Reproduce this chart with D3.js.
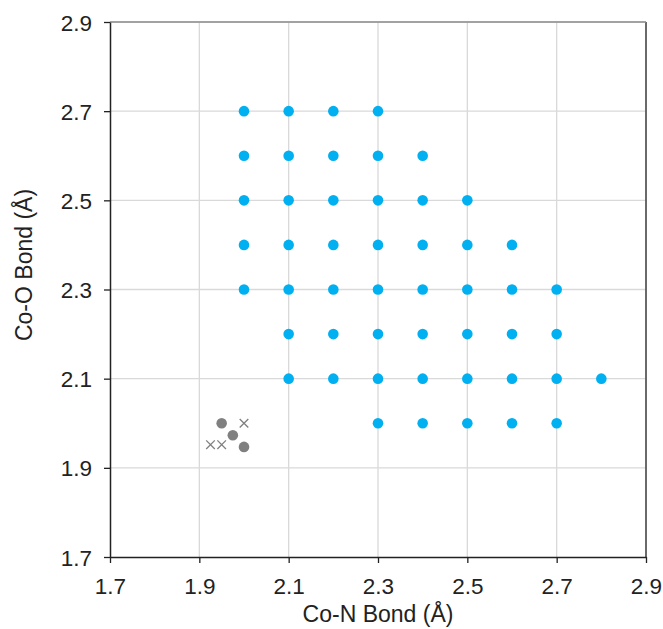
<!DOCTYPE html>
<html>
<head>
<meta charset="utf-8">
<script src="https://cdn.jsdelivr.net/npm/d3@7"></script>
<style>
  body { margin: 0; background: #fff; }
  text { font-family: "Liberation Sans", Arial, sans-serif; }
</style>
</head>
<body>
<div id="chart"></div>
<script>
// grid scan points (Co-N, Co-O)
const gridN = [2.0, 2.1, 2.2, 2.3, 2.0, 2.1, 2.2, 2.3, 2.4, 2.0, 2.1, 2.2, 2.3, 2.4, 2.5,
  2.0, 2.1, 2.2, 2.3, 2.4, 2.5, 2.6, 2.0, 2.1, 2.2, 2.3, 2.4, 2.5, 2.6, 2.7,
  2.1, 2.2, 2.3, 2.4, 2.5, 2.6, 2.7, 2.1, 2.2, 2.3, 2.4, 2.5, 2.6, 2.7, 2.8,
  2.3, 2.4, 2.5, 2.6, 2.7];
const gridO = [2.7, 2.7, 2.7, 2.7, 2.6, 2.6, 2.6, 2.6, 2.6, 2.5, 2.5, 2.5, 2.5, 2.5, 2.5,
  2.4, 2.4, 2.4, 2.4, 2.4, 2.4, 2.4, 2.3, 2.3, 2.3, 2.3, 2.3, 2.3, 2.3, 2.3,
  2.2, 2.2, 2.2, 2.2, 2.2, 2.2, 2.2, 2.1, 2.1, 2.1, 2.1, 2.1, 2.1, 2.1, 2.1,
  2.0, 2.0, 2.0, 2.0, 2.0];

// grey dots
const dotN = [1.95, 1.975, 2.0];
const dotO = [2.0, 1.973, 1.947];

// grey crosses
const crossN = [1.925, 1.95, 2.0];
const crossO = [1.952, 1.952, 2.0];

const ticks = [1.7, 1.9, 2.1, 2.3, 2.5, 2.7, 2.9];

const W = 663, H = 629;
const margin = {top: 22, right: 17, bottom: 72, left: 110};
const width = W - margin.left - margin.right;
const height = H - margin.top - margin.bottom;

const svg = d3.select("#chart").append("svg")
    .attr("width", W)
    .attr("height", H);

const g = svg.append("g")
    .attr("transform", `translate(${margin.left},${margin.top})`);

const x = d3.scaleLinear().domain([1.7, 2.9]).range([0, width]);
const y = d3.scaleLinear().domain([1.7, 2.9]).range([height, 0]);

// gridlines
g.append("g").selectAll("line.vg")
    .data(ticks.slice(1))
    .enter().append("line")
    .attr("x1", d => x(d)).attr("x2", d => x(d))
    .attr("y1", 0).attr("y2", height)
    .attr("stroke", "#d9d9d9").attr("stroke-width", 1.3);

g.append("g").selectAll("line.hg")
    .data(ticks.slice(1))
    .enter().append("line")
    .attr("x1", 0).attr("x2", width)
    .attr("y1", d => y(d)).attr("y2", d => y(d))
    .attr("stroke", "#d9d9d9").attr("stroke-width", 1.3);

// right border
g.append("line")
    .attr("x1", x(2.9)).attr("x2", x(2.9))
    .attr("y1", 0).attr("y2", height)
    .attr("stroke", "#404040").attr("stroke-width", 1.5);
g.append("line")
    .attr("x1", 0).attr("x2", width)
    .attr("y1", y(2.9)).attr("y2", y(2.9))
    .attr("stroke", "#8c8c8c").attr("stroke-width", 1.5);

// axes
const xAxis = d3.axisBottom(x).tickValues(ticks).tickFormat(d3.format(".1f")).tickSize(6).tickSizeOuter(0);
const yAxis = d3.axisLeft(y).tickValues(ticks).tickFormat(d3.format(".1f")).tickSize(6).tickSizeOuter(0);

const gx = g.append("g")
    .attr("transform", `translate(0,${height})`)
    .call(xAxis);
const gy = g.append("g").call(yAxis);

[gx, gy].forEach(a => {
    a.select(".domain").attr("stroke", "#222").attr("stroke-width", 1.5);
    a.selectAll(".tick line").attr("stroke", "#222").attr("stroke-width", 1.3);
    a.selectAll(".tick text")
        .attr("font-size", 22.5)
        .attr("fill", "#222")
        .style("font-family", "'Liberation Sans', Arial, sans-serif");
});
gx.selectAll(".tick text").attr("y", 0).attr("dy", 0)
    .attr("transform", "translate(0,37)");
gy.selectAll(".tick text").attr("x", -18).attr("dy", "0.36em");

// axis titles
svg.append("text")
    .attr("x", margin.left + width / 2)
    .attr("y", 622)
    .attr("text-anchor", "middle")
    .attr("font-size", 23)
    .attr("fill", "#222")
    .text("Co-N Bond (Å)");

svg.append("text")
    .attr("transform", `translate(32,265) rotate(-90)`)
    .attr("text-anchor", "middle")
    .attr("font-size", 23)
    .attr("fill", "#222")
    .text("Co-O Bond (Å)");

// grid scan points
g.append("g").selectAll("circle.grid")
    .data(gridN.map((n, i) => [n, gridO[i]]))
    .enter().append("circle")
    .attr("cx", d => x(d[0]))
    .attr("cy", d => y(d[1]))
    .attr("r", 5.3)
    .attr("fill", "#00b0f0");

// grey dots
g.append("g").selectAll("circle.dot")
    .data(dotN.map((n, i) => [n, dotO[i]]))
    .enter().append("circle")
    .attr("cx", d => x(d[0]))
    .attr("cy", d => y(d[1]))
    .attr("r", 5.3)
    .attr("fill", "#808080");

// grey crosses
const cross = d3.symbol().type(d3.symbolX).size(50);
g.append("g").selectAll("path.cross")
    .data(crossN.map((n, i) => [n, crossO[i]]))
    .enter().append("path")
    .attr("d", cross)
    .attr("transform", d => `translate(${x(d[0])},${y(d[1])})`)
    .attr("fill", "none")
    .attr("stroke", "#808080")
    .attr("stroke-width", 1.3);
</script>
</body>
</html>
